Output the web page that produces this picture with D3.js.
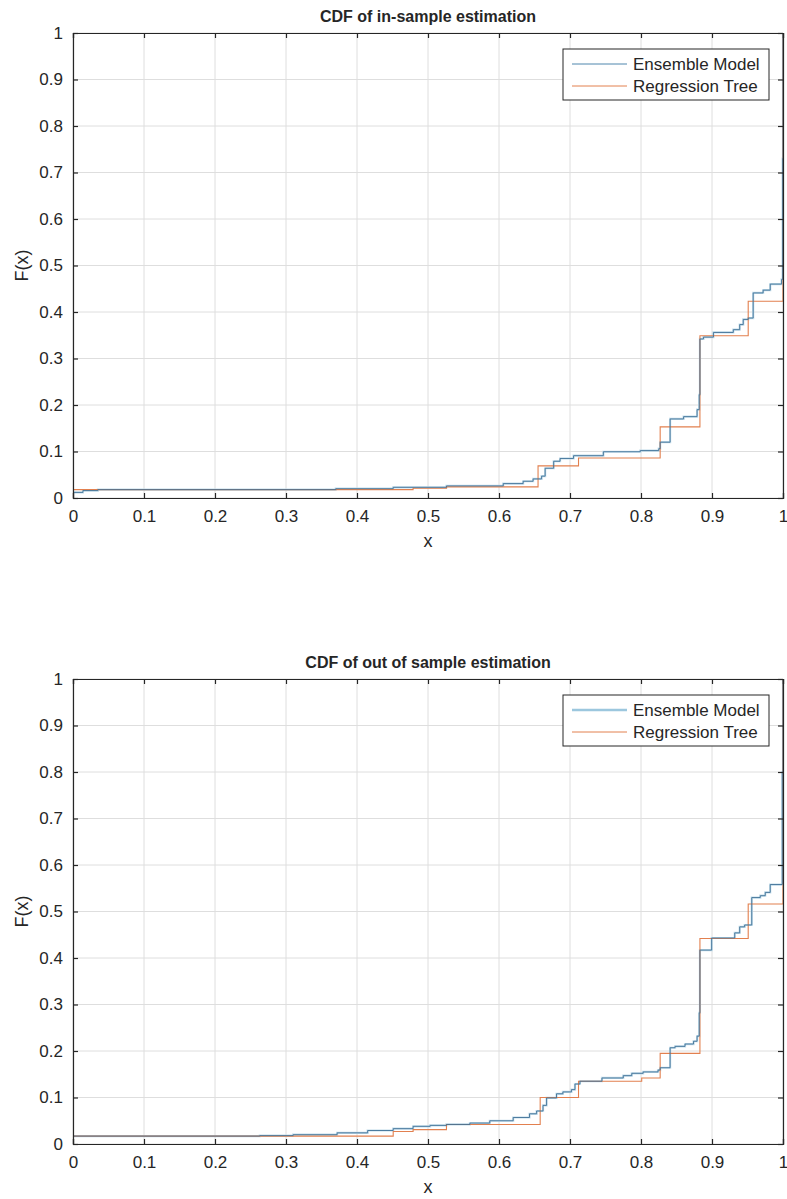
<!DOCTYPE html>
<html>
<head>
<meta charset="utf-8">
<script src="https://cdn.jsdelivr.net/npm/d3@7"></script>
<style>
  body { margin: 0; background: #fff; }
  text { font-family: "Liberation Sans", Arial, Helvetica, sans-serif; fill: #262626; }
</style>
</head>
<body>
<div id="chart"></div>
<script>
// tick values and labels
const xTicks = [0, 0.1, 0.2, 0.3, 0.4, 0.5, 0.6, 0.7, 0.8, 0.9, 1];
const yTicks = [0, 0.1, 0.2, 0.3, 0.4, 0.5, 0.6, 0.7, 0.8, 0.9, 1];
const seriesNames = ["Ensemble Model", "Regression Tree"];
const titles = ["CDF of in-sample estimation", "CDF of out of sample estimation"];

// in-sample: step positions (x) and CDF value after each step (F)
const inEnsembleX = [0, 0.014, 0.035, 0.37, 0.451, 0.526, 0.606, 0.634, 0.648, 0.66, 0.665, 0.677, 0.686, 0.705, 0.747, 0.799, 0.825, 0.827, 0.841, 0.86, 0.879, 0.882, 0.883, 0.888, 0.902, 0.93, 0.939, 0.944, 0.951, 0.958, 0.972, 0.982, 0.998, 0.9995, 1];
const inEnsembleF = [0.012, 0.016, 0.018, 0.02, 0.023, 0.026, 0.031, 0.036, 0.041, 0.047, 0.064, 0.079, 0.085, 0.091, 0.0995, 0.102, 0.106, 0.12, 0.17, 0.175, 0.19, 0.222, 0.342, 0.346, 0.356, 0.362, 0.373, 0.384, 0.387, 0.441, 0.447, 0.46, 0.47, 0.73, 1];
const inTreeX = [0, 0.479, 0.526, 0.655, 0.712, 0.827, 0.883, 0.951, 1];
const inTreeF = [0.018, 0.021, 0.024, 0.069, 0.086, 0.153, 0.349, 0.423, 1];

// out of sample
const outEnsembleX = [0, 0.263, 0.31, 0.372, 0.415, 0.451, 0.479, 0.503, 0.526, 0.559, 0.587, 0.62, 0.643, 0.653, 0.662, 0.667, 0.681, 0.69, 0.702, 0.707, 0.714, 0.745, 0.775, 0.787, 0.803, 0.824, 0.827, 0.841, 0.848, 0.862, 0.874, 0.879, 0.882, 0.883, 0.8995, 0.932, 0.939, 0.946, 0.956, 0.968, 0.975, 0.982, 0.999, 1];
const outEnsembleF = [0.017, 0.018, 0.02, 0.024, 0.029, 0.033, 0.038, 0.04, 0.042, 0.045, 0.05, 0.057, 0.065, 0.071, 0.083, 0.099, 0.108, 0.112, 0.117, 0.129, 0.135, 0.142, 0.147, 0.152, 0.155, 0.159, 0.164, 0.207, 0.21, 0.215, 0.221, 0.232, 0.282, 0.417, 0.443, 0.454, 0.467, 0.471, 0.53, 0.534, 0.541, 0.558, 0.8, 1];
const outTreeX = [0, 0.451, 0.479, 0.526, 0.658, 0.712, 0.801, 0.827, 0.883, 0.951, 1];
const outTreeF = [0.017, 0.027, 0.031, 0.042, 0.1, 0.135, 0.142, 0.195, 0.442, 0.516, 1];

const blueCore = "#3f7196";
const blueHalo = "#c2dcea";
const orange = "#e2804f";

const margin = { left: 73 };
const width = 710;
const height = 465;

const svg = d3.select("#chart")
    .append("svg")
    .attr("width", 787)
    .attr("height", 1199);

function drawCdf(top, title, ensX, ensF, treeX, treeF, clipId, legendBlue) {
    const g = svg.append("g")
        .attr("transform", "translate(" + margin.left + "," + top + ")");

    const xScale = d3.scaleLinear().domain([0, 1]).range([0, width]);
    const yScale = d3.scaleLinear().domain([0, 1]).range([height, 0]);

    // grid
    g.append("g")
        .selectAll("line")
        .data(xTicks)
        .enter().append("line")
        .attr("x1", d => xScale(d)).attr("x2", d => xScale(d))
        .attr("y1", 0).attr("y2", height)
        .attr("stroke", "#dedede").attr("stroke-width", 1);
    g.append("g")
        .selectAll("line")
        .data(yTicks)
        .enter().append("line")
        .attr("x1", 0).attr("x2", width)
        .attr("y1", d => yScale(d)).attr("y2", d => yScale(d))
        .attr("stroke", "#dedede").attr("stroke-width", 1);

    g.append("clipPath").attr("id", clipId)
        .append("rect").attr("width", width + 1).attr("height", height);

    const line = d3.line()
        .x(d => xScale(d[0]))
        .y(d => yScale(d[1]))
        .curve(d3.curveStepAfter);

    const ens = ensX.map((x, i) => [x, ensF[i]]);
    const tree = treeX.map((x, i) => [x, treeF[i]]);

    const lines = g.append("g").attr("clip-path", "url(#" + clipId + ")");
    lines.append("path").datum(ens)
        .attr("d", line).attr("fill", "none")
        .attr("stroke", blueHalo).attr("stroke-width", 2.2);
    lines.append("path").datum(tree)
        .attr("d", line).attr("fill", "none")
        .attr("stroke", orange).attr("stroke-width", 1.1);
    lines.append("path").datum(ens)
        .attr("d", line).attr("fill", "none")
        .attr("stroke", blueCore).attr("stroke-width", 0.9);

    // axes: ticks point inward, box on all sides
    const tickLen = 5;
    const xAxis = g.append("g")
        .attr("transform", "translate(0," + height + ")")
        .call(d3.axisBottom(xScale).tickValues(xTicks).tickSize(-tickLen).tickPadding(12)
            .tickFormat(d3.format("~g")));
    const yAxis = g.append("g")
        .call(d3.axisLeft(yScale).tickValues(yTicks).tickSize(-tickLen).tickPadding(10)
            .tickFormat(d3.format("~g")));
    g.append("g")
        .call(d3.axisTop(xScale).tickValues(xTicks).tickSize(-tickLen).tickFormat(""));
    g.append("g")
        .attr("transform", "translate(" + width + ",0)")
        .call(d3.axisRight(yScale).tickValues(yTicks).tickSize(-tickLen).tickFormat(""));

    g.selectAll(".domain").attr("stroke", "#262626").attr("stroke-width", 1.2);
    g.selectAll(".tick line").attr("stroke", "#262626").attr("stroke-width", 1.2);
    xAxis.selectAll("text").style("font-size", "17px").attr("fill", "#262626");
    yAxis.selectAll("text").style("font-size", "17px").attr("fill", "#262626");

    // title and axis labels
    g.append("text")
        .attr("x", width / 2)
        .attr("y", -11)
        .attr("text-anchor", "middle")
        .style("font-size", "16px")
        .style("font-weight", "bold")
        .text(title);

    g.append("text")
        .attr("x", width / 2)
        .attr("y", height + 49)
        .attr("text-anchor", "middle")
        .style("font-size", "18px")
        .text("x");

    g.append("text")
        .attr("transform", "rotate(-90)")
        .attr("x", -height / 2)
        .attr("y", -45)
        .attr("text-anchor", "middle")
        .style("font-size", "18px")
        .text("F(x)");

    // legend
    const legend = g.append("g").attr("transform", "translate(" + (563 - margin.left) + ",16)");
    legend.append("rect")
        .attr("width", 206).attr("height", 51)
        .attr("fill", "#fff").attr("stroke", "#262626").attr("stroke-width", 1);
    const colors = [legendBlue.color, orange];
    const widths = [legendBlue.width, 1];
    seriesNames.forEach((name, i) => {
        const yy = 15 + i * 22;
        legend.append("line")
            .attr("x1", 9).attr("x2", 64)
            .attr("y1", yy).attr("y2", yy)
            .attr("stroke", colors[i]).attr("stroke-width", widths[i]);
        legend.append("text")
            .attr("x", 70).attr("y", yy)
            .attr("dy", "0.35em")
            .style("font-size", "17px")
            .text(name);
    });
}

drawCdf(33, titles[0], inEnsembleX, inEnsembleF, inTreeX, inTreeF, "clipTop",
    { color: "#4f86ad", width: 1 });
drawCdf(679, titles[1], outEnsembleX, outEnsembleF, outTreeX, outTreeF, "clipBottom",
    { color: "#9cc7de", width: 2.4 });
</script>
</body>
</html>
